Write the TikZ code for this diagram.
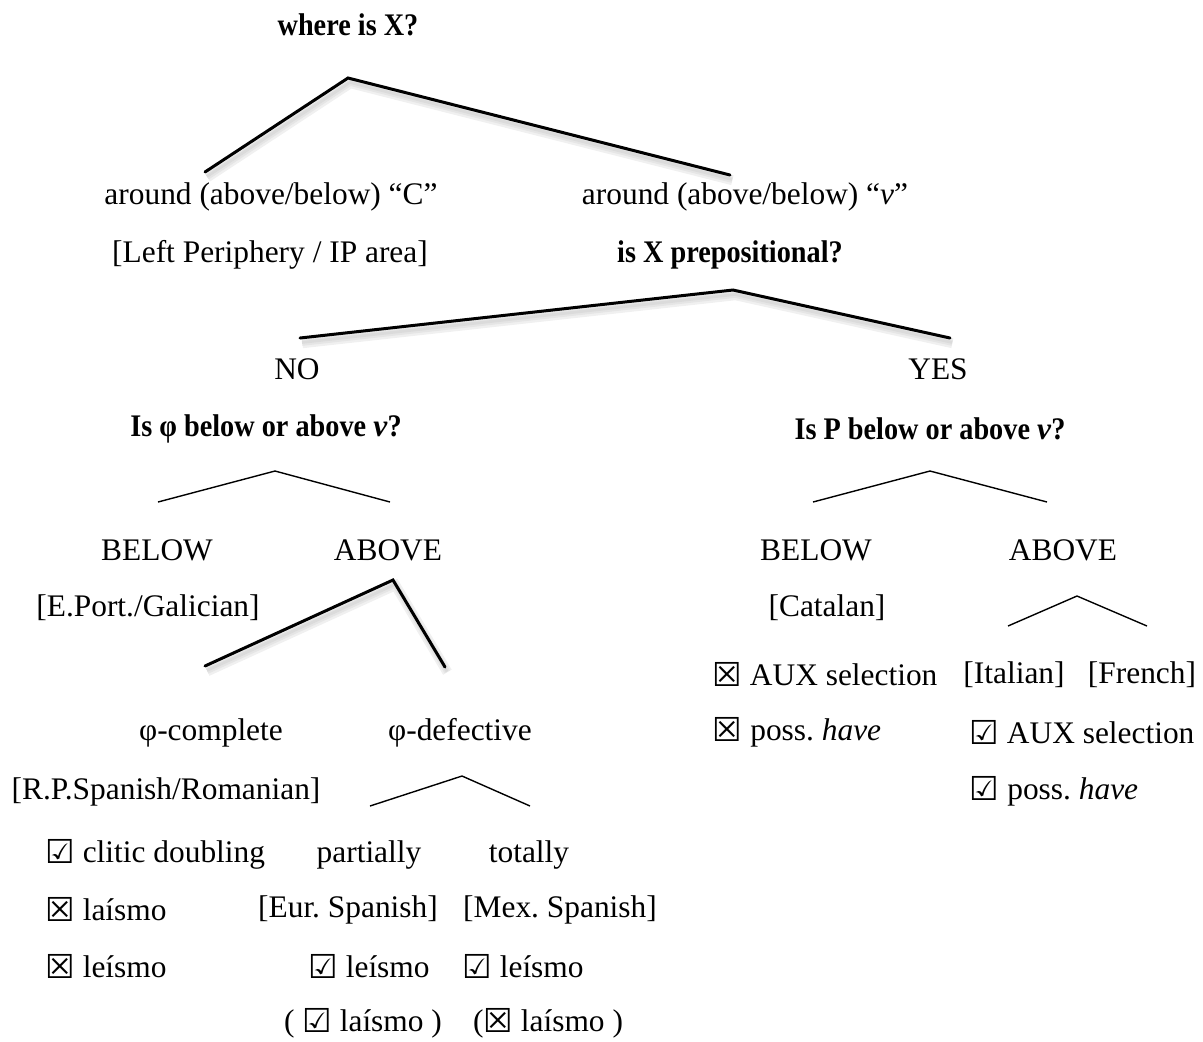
\documentclass[tikz,border=0pt]{standalone}
\usepackage{fontspec}
\setmainfont{Liberation Serif}[BoldFeatures={FakeStretch=0.9}]
\newfontfamily\boxfont{DejaVu Sans}[Scale=1.05]
\newcommand{\chkyes}{\smash{\raisebox{-0.02em}{\boxfont\char"2611}}}
\newcommand{\chkno}{\smash{\raisebox{-0.02em}{\boxfont\char"2612}}}
\usetikzlibrary{calc}
\frenchspacing

\begin{document}
\begin{tikzpicture}[
    x=0.5pt, y=-0.5pt,
    lbl/.style={font=\fontsize{15.7}{19}\selectfont, inner sep=0pt},
    quest/.style={lbl, font=\fontsize{15.7}{19}\selectfont\bfseries},
    branch/.style={line width=1.5pt, line cap=round,
      preaction={draw, black!6, line width=5pt, transform canvas={shift={(1.2pt,-2.6pt)}}},
      preaction={draw, black!10, line width=3pt, transform canvas={shift={(1.1pt,-2.4pt)}}},
      preaction={draw, black!14, line width=1.4pt, transform canvas={shift={(1pt,-2.2pt)}}}},
    twig/.style={line width=0.7pt},
  ]
    \useasboundingbox (0,0) rectangle (1203,1041);

    % top question
    \node[quest] (where) at (348,25) {where is X?};
    \coordinate (apexA) at (348,78);
    \coordinate (legAl) at (205,172);
    \coordinate (legAr) at (730,175);
    \draw[branch] (legAl) -- (apexA) -- (legAr);
    \node[lbl] (aroundC) at (271,197) {around (above/below) “C”};
    \node[lbl] (aroundv) at (745,197) {around (above/below) “\textit{v}”};
    \node[lbl] (leftper) at (270,255) {[Left Periphery / IP area]};
    \node[quest] (prep) at (730,255) {is X prepositional?};

    % prepositional?
    \coordinate (apexB) at (733,290);
    \coordinate (legBl) at (300,338);
    \coordinate (legBr) at (950,338);
    \draw[branch] (legBl) -- (apexB) -- (legBr);
    \node[lbl] (no) at (297,369) {NO};
    \node[lbl] (yes) at (938,369) {YES};
    \node[quest] (qphi) at (266,429) {Is φ below or above \textit{v}?};
    \node[quest] (qP) at (930,429) {Is P below or above \textit{v}?};

    % phi below/above
    \coordinate (apexC) at (275,471);
    \draw[twig] (158,502) -- (apexC) -- (390,502);
    \node[lbl] (belowL) at (157,550) {BELOW};
    \node[lbl] (aboveL) at (388,550) {ABOVE};
    \node[lbl] (galic) at (148,608) {[E.Port./Galician]};

    % P below/above
    \coordinate (apexD) at (930,471);
    \draw[twig] (813,502) -- (apexD) -- (1047,502);
    \node[lbl] (belowR) at (816,550) {BELOW};
    \node[lbl] (aboveR) at (1063,550) {ABOVE};
    \node[lbl] (catal) at (827,608) {[Catalan]};
    \coordinate (apexE) at (1077,596);
    \draw[twig] (1008,626) -- (apexE) -- (1147,626);
    \node[lbl] (auxno) at (825,675) {\chkno\ AUX selection};
    \node[lbl] (ital) at (1014,675) {[Italian]};
    \node[lbl] (fren) at (1142,675) {[French]};
    \node[lbl] (possno) at (797,733) {\chkno\ poss. \textit{have}};
    \node[lbl] (auxyes) at (1082,733) {\chkyes\ AUX selection};
    \node[lbl] (possyes) at (1054,792) {\chkyes\ poss. \textit{have}};

    % phi complete/defective
    \coordinate (apexF) at (393,580);
    \coordinate (legFl) at (205,666);
    \coordinate (legFr) at (445,667);
    \draw[branch] (legFl) -- (apexF) -- (legFr);
    \node[lbl] (phicomp) at (211,733) {φ-complete};
    \node[lbl] (phidef) at (460,733) {φ-defective};
    \node[lbl] (rpspan) at (166,792) {[R.P.Spanish/Romanian]};
    \coordinate (apexG) at (462,776);
    \draw[twig] (370,806) -- (apexG) -- (530,806);

    \node[lbl, anchor=west] (clitic) at (45,855) {\chkyes\ clitic doubling};
    \node[lbl, anchor=west] (laiscomp) at (45,910) {\chkno\ laísmo};
    \node[lbl, anchor=west] (leiscomp) at (45,967) {\chkno\ leísmo};
    \node[lbl] (partly) at (369,855) {partially};
    \node[lbl] (totly) at (529,855) {totally};
    \node[lbl] (eurspan) at (348,910) {[Eur. Spanish]};
    \node[lbl] (mexspan) at (560,910) {[Mex. Spanish]};
    \node[lbl] (leiseur) at (369,967) {\chkyes\ leísmo};
    \node[lbl] (leismex) at (523,967) {\chkyes\ leísmo};
    \node[lbl] (laiseur) at (363,1024) {( \chkyes\ laísmo )};
    \node[lbl] (laismex) at (548,1024) {(\chkno\ laísmo )};
  \end{tikzpicture}
\end{document}
